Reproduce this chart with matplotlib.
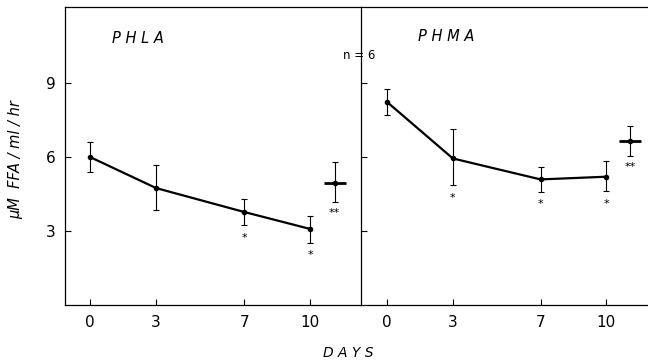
import matplotlib
matplotlib.use("Agg")
import matplotlib.pyplot as plt

# data (mean +/- error, uM FFA/ml/hr)
days = [0, 3, 7, 10]

phla_mean = [6.0, 4.74, 3.77, 3.08]
phla_upper = [6.6, 5.67, 4.3, 3.6]
phla_lower = [5.4, 3.85, 3.24, 2.52]
phla_star = ["", "", "*", "*"]
phla_overall = 4.95
phla_overall_hi = 5.8
phla_overall_lo = 4.17

phma_mean = [8.23, 5.94, 5.09, 5.2]
phma_upper = [8.76, 7.12, 5.58, 5.83]
phma_lower = [7.70, 4.86, 4.6, 4.62]
phma_star = ["", "*", "*", "*"]
phma_overall = 6.66
phma_overall_hi = 7.26
phma_overall_lo = 6.04

overall_day = 11.1
yticks = [3, 6, 9]

plt.rcParams["font.family"] = "DejaVu Sans"

fig = plt.figure(figsize=(6.48, 3.63), dpi=100)
ax1 = fig.add_axes([0.1003, 0.1598, 0.4568, 0.821])
ax2 = fig.add_axes([0.557, 0.1598, 0.443, 0.821])


def panel(ax, mean, upper, lower, stars, ov, ov_hi, ov_lo, xlim):
    yerr = [[m - l for m, l in zip(mean, lower)],
            [u - m for m, u in zip(mean, upper)]]
    ax.errorbar(days, mean, yerr=yerr, color="black", lw=1.6, marker="o",
                ms=3, elinewidth=0.8, capsize=2.5, capthick=0.8)
    ax.errorbar([overall_day], [ov], yerr=[[ov - ov_lo], [ov_hi - ov]],
                color="black", marker="none", elinewidth=0.8,
                capsize=2.5, capthick=0.8, ls="none")
    ax.plot([overall_day], [ov], color="black", marker="_", ms=16, mew=2,
            ls="none")
    ax.plot([overall_day], [ov], color="black", marker="o", ms=3, ls="none")
    for d, lo, s in zip(days, lower, stars):
        if s:
            ax.annotate(s, (d, lo), xytext=(0, -9), textcoords="offset points",
                        ha="center", va="center", fontsize=8)
    ax.annotate("**", (overall_day, ov_lo), xytext=(0, -8),
                textcoords="offset points", ha="center", va="center", fontsize=8)
    ax.set_xlim(*xlim)
    ax.set_ylim(0, 12.08)
    ax.set_xticks(days)
    ax.set_yticks(yticks)
    ax.tick_params(direction="in", length=4, width=0.8, labelsize=11, pad=7)
    for sp in ax.spines.values():
        sp.set_linewidth(0.9)


panel(ax1, phla_mean, phla_upper, phla_lower, phla_star,
      phla_overall, phla_overall_hi, phla_overall_lo, (-1.13, 12.3))
panel(ax2, phma_mean, phma_upper, phma_lower, phma_star,
      phma_overall, phma_overall_hi, phma_overall_lo, (-1.19, 11.9))

ax2.set_yticklabels([])
ax2.spines["right"].set_visible(False)
ax1.spines["right"].set_visible(False)

ax1.text(0.16, 0.895, "P H L A", transform=ax1.transAxes, fontsize=10.5,
         style="italic", ha="left", va="center")
ax2.text(0.2, 0.9, "P H M A", transform=ax2.transAxes, fontsize=10.5,
         style="italic", ha="left", va="center")
fig.text(0.555, 0.848, "n = 6", fontsize=8.5, ha="center", va="center")

fig.text(0.024, 0.56, "\u03bcM  FFA / ml / hr", rotation=90, fontsize=10.5,
         style="italic", ha="center", va="center")
fig.text(0.538, 0.027, "D A Y S", fontsize=10, style="italic",
         ha="center", va="center")

fig.savefig("out.png", dpi=100)
